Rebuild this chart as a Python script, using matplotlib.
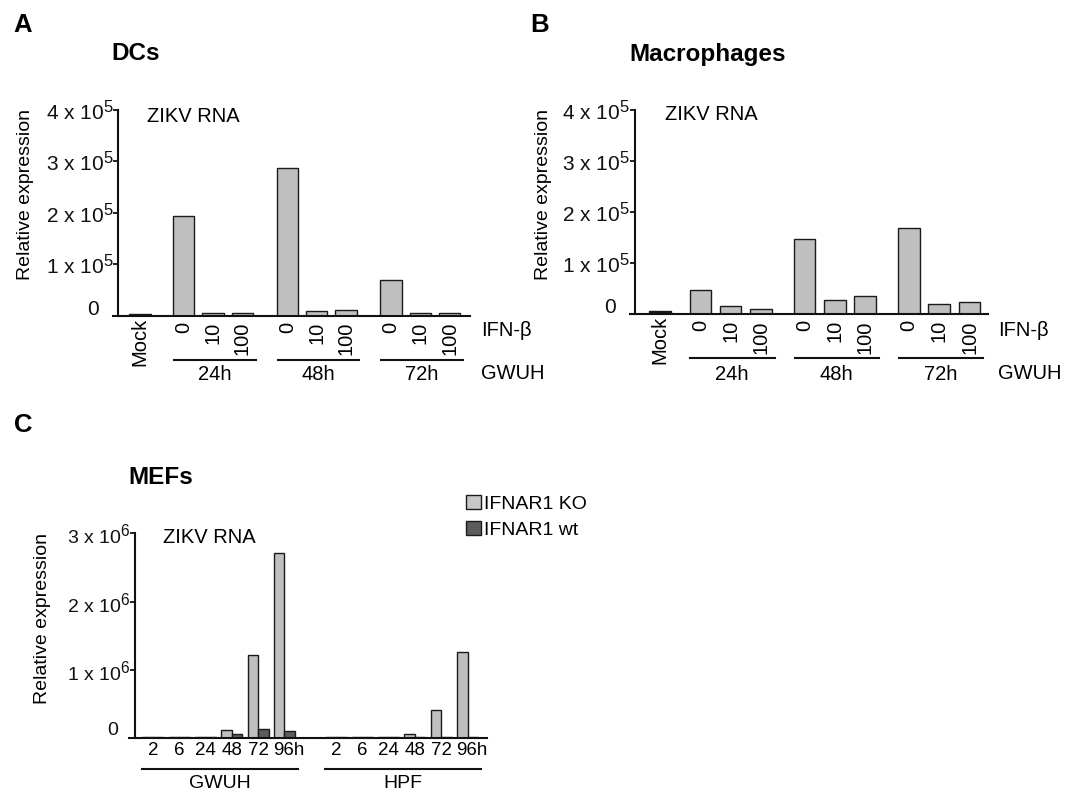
import numpy as np
import matplotlib
matplotlib.use("Agg")
import matplotlib.pyplot as plt
import matplotlib._mathtext as mathtext_internal
from matplotlib.patches import Patch
from matplotlib.transforms import ScaledTranslation, blended_transform_factory

plt.rcParams["font.family"] = ["Liberation Sans", "DejaVu Sans"]
plt.rcParams["mathtext.fontset"] = "custom"
plt.rcParams["mathtext.rm"] = "Liberation Sans"
plt.rcParams["mathtext.it"] = "Liberation Sans:italic"
plt.rcParams["mathtext.bf"] = "Liberation Sans:bold"
# superscripts in the original are only a little smaller than the base text
mathtext_internal.SHRINK_FACTOR = 0.8

W, H = 1073, 792

# ---- data ----
ifn_doses = ["0", "10", "100"]
timepoints = ["24h", "48h", "72h"]

dc_mock = 3000
dc_values = [[1.94e5, 6000, 6000],
             [2.87e5, 9000, 12000],
             [0.69e5, 6000, 6000]]

mac_mock = 5000
mac_values = [[0.47e5, 0.157e5, 0.09e5],
              [1.476e5, 0.28e5, 0.346e5],
              [1.69e5, 0.19e5, 0.23e5]]

mef_hours = ["2", "6", "24", "48", "72", "96h"]
mef_strains = ["GWUH", "HPF"]
mef_ko = [[0.012e6, 0.012e6, 0.012e6, 0.12e6, 1.22e6, 2.71e6],
          [0.012e6, 0.012e6, 0.012e6, 0.06e6, 0.41e6, 1.26e6]]
mef_wt = [[0.012e6, 0.012e6, 0.012e6, 0.064e6, 0.142e6, 0.107e6],
          [0.012e6, 0.012e6, 0.012e6, 0.012e6, 0.012e6, 0.012e6]]

BAR = "#bfbfbf"
DARK = "#5c5c5c"
EDGE = "#1a1a1a"
FS_AB = 14.5   # x labels in panels A/B
FS_Y = 15      # y tick labels in panels A/B
FS_C = 13.5

fig = plt.figure(figsize=(W / 100, H / 100), dpi=100)


def shift(label, dx, dy):
    label.set_transform(label.get_transform() +
                        ScaledTranslation(dx / 100, dy / 100, fig.dpi_scale_trans))


def add_axes(x0, x1, ytop, ybase):
    return fig.add_axes([x0 / W, 1 - ybase / H, (x1 - x0) / W, (ybase - ytop) / H])


def style_y(ax, ticks, labels, size, zero_dx, zero_dy):
    ax.spines[["top", "right"]].set_visible(False)
    for s in ("left", "bottom"):
        ax.spines[s].set_linewidth(1.5)
        ax.spines[s].set_color("#111111")
    ax.set_yticks(ticks, labels)
    ax.tick_params(axis="y", length=3.6, width=1.3, pad=0, labelsize=size, colors="#111111")
    shift(ax.get_yticklabels()[0], zero_dx, zero_dy)


def ifn_panel(ax, mock, values, starts, xlim, spine_x, width, mock_color,
              line_y, group_y, right_x):
    pos = [0] + [s + k for s in starts for k in range(3)]
    heights = [mock] + [v for grp in values for v in grp]
    colors = [mock_color] + [BAR] * 9
    ax.bar(pos, heights, width, color=colors, edgecolor=EDGE, linewidth=1.0)
    ax.set_xlim(*xlim)
    ax.set_ylim(0, 4e5)
    ax.spines["left"].set_position(("data", spine_x))
    ax.set_xticks(pos, ["Mock"] + ifn_doses * 3, rotation=90)
    ax.tick_params(axis="x", length=0, pad=4.5, labelsize=FS_AB)
    shift(ax.get_xticklabels()[0], 0, 4)
    style_y(ax, np.arange(5) * 1e5,
            ["0"] + [f"{i} x 10" + r"$^5$" for i in range(1, 5)], FS_Y, -14, 8)

    tr = blended_transform_factory(ax.transData, fig.transFigure)
    for s, t in zip(starts, timepoints):
        ax.plot([s - width / 2 + 0.03, s + 2 + width / 2 + 0.1], [1 - line_y / H] * 2,
                transform=tr, clip_on=False, color="#111111", lw=1.5)
        ax.text(s + 1.05, 1 - group_y / H, t, transform=tr, ha="center", va="center",
                fontsize=FS_AB)
    fig.text(right_x / W, 1 - 330 / H, "IFN-β", ha="left", va="center", fontsize=FS_AB)
    fig.text(right_x / W, 1 - 373 / H, "GWUH", ha="left", va="center", fontsize=FS_AB)


# ---- panel A: DCs ----
axA = add_axes(112.7, 470, 110, 315.7)
ifn_panel(axA, dc_mock, dc_values, [1.5, 5.05, 8.6], (-0.935, 11.3), -0.743, 0.73,
          BAR, 360, 375, 481)
fig.text(13 / W, 1 - 31.7 / H, "A", fontsize=18.5, weight="bold", va="baseline")
fig.text(111.7 / W, 1 - 60 / H, "DCs", fontsize=17.5, weight="bold", va="baseline")
fig.text(147 / W, 1 - 121.7 / H, "ZIKV RNA", fontsize=14.5, va="baseline")
fig.text(26 / W, 1 - 195 / H, "Relative expression", rotation=90, ha="center",
         va="center", fontsize=14)

# ---- panel B: Macrophages ----
axB = add_axes(630, 988, 110, 314)
ifn_panel(axB, mac_mock, mac_values, [1.33, 4.77, 8.21], (-0.99, 10.82), -0.825, 0.71,
          "#1a1a1a", 358.3, 375, 998)
fig.text(530.5 / W, 1 - 32 / H, "B", fontsize=18.5, weight="bold", va="baseline")
fig.text(629 / W, 1 - 61 / H, "Macrophages", fontsize=17.5, weight="bold", va="baseline")
fig.text(665 / W, 1 - 120 / H, "ZIKV RNA", fontsize=14.5, va="baseline")
fig.text(544 / W, 1 - 195 / H, "Relative expression", rotation=90, ha="center",
         va="center", fontsize=14)

# ---- panel C: MEFs ----
axC = add_axes(129.3, 487, 533.3, 738.3)
bw = 0.4
offsets = [0, 6.96]
all_pos = []
for g, off in enumerate(offsets):
    centers = off + np.arange(len(mef_hours))
    all_pos.extend(centers)
    axC.bar(centers - bw / 2, mef_ko[g], bw, color=BAR, edgecolor=EDGE, linewidth=1.0)
    axC.bar(centers + bw / 2, mef_wt[g], bw, color=DARK, edgecolor=EDGE, linewidth=1.0)
axC.set_xlim(-0.9, 12.7)
axC.set_ylim(0, 3e6)
axC.spines["left"].set_position(("data", -0.684))
axC.set_xticks(all_pos, mef_hours * 2)
axC.tick_params(axis="x", length=0, pad=3, labelsize=FS_C)
for lab in axC.get_xticklabels():
    if lab.get_text().endswith("h"):
        shift(lab, 4, 0)
style_y(axC, np.arange(4) * 1e6,
        ["0"] + [f"{i} x 10" + r"$^6$" for i in range(1, 4)], 14, -12, 10)

trC = blended_transform_factory(axC.transData, fig.transFigure)
for off, name in zip(offsets, mef_strains):
    x0, x1 = off - 0.43, off + 5.52
    axC.plot([x0, x1], [1 - 769 / H] * 2, transform=trC, clip_on=False,
             color="#111111", lw=1.5)
    axC.text((x0 + x1) / 2, 1 - 783 / H, name, transform=trC, ha="center",
             va="center", fontsize=14)

fig.text(14 / W, 1 - 432 / H, "C", fontsize=18.5, weight="bold", va="baseline")
fig.text(128 / W, 1 - 484 / H, "MEFs", fontsize=17.5, weight="bold", va="baseline")
fig.text(163 / W, 1 - 543.3 / H, "ZIKV RNA", fontsize=14.5, va="baseline")
fig.text(43 / W, 1 - 618 / H, "Relative expression", rotation=90, ha="center",
         va="center", fontsize=14)

fig.legend(handles=[Patch(facecolor="#c8c8c8", edgecolor=EDGE, label="IFNAR1 KO"),
                    Patch(facecolor=DARK, edgecolor=EDGE, label="IFNAR1 wt")],
           loc="upper left", bbox_to_anchor=(466 / W, 1 - 495 / H), frameon=False,
           fontsize=14, handlelength=0.75, handleheight=0.75, handletextpad=0.2,
           labelspacing=0.4, borderpad=0, borderaxespad=0)

fig.savefig("out.png", dpi=100)
